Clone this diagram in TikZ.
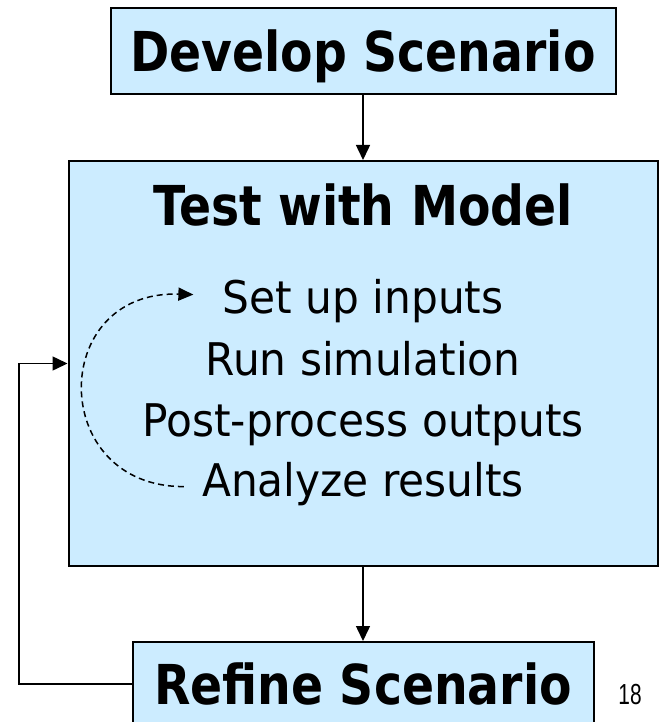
\documentclass[tikz,border=0pt]{standalone}
\usepackage{fontspec}
\usetikzlibrary{arrows.meta}
\newfontfamily\ttlfont[FakeStretch=0.86]{DejaVu Sans Bold}
\newfontfamily\bodyfont[FakeStretch=0.94]{DejaVu Sans}
\newfontfamily\numfont[FakeStretch=0.72]{Liberation Sans}
\definecolor{boxblue}{HTML}{CCECFF}
\begin{document}
\begin{tikzpicture}[x=1pt,y=-1pt,
  box/.style={draw=black, line width=2pt, fill=boxblue, inner sep=0pt},
  ttl/.style={font=\ttlfont\fontsize{55}{55}\selectfont, inner sep=0pt, text depth=0pt},
  item/.style={font=\bodyfont\fontsize{45}{45}\selectfont, inner sep=0pt, anchor=base},
  conn/.style={line width=1.5pt, -{Triangle[length=15pt,width=14pt]}},
  loopconn/.style={line width=1.5pt, dash pattern=on 6pt off 4pt, -{Triangle[length=15pt,width=13pt]}}
]
\useasboundingbox (0,0) rectangle (659,722);
\node[box, ttl, minimum width=505pt, minimum height=86pt] (dev) at (363,51) {Develop Scenario};
\node[box, minimum width=589pt, minimum height=405pt] (test) at (363,363.5) {};
\node[ttl, anchor=base] (ttitle) at (363,225) {Test with Model};
\node[item] (i1) at (363,313) {Set up inputs};
\node[item] (i2) at (363,375) {Run simulation};
\node[item] (i3) at (363,436) {Post-process outputs};
\node[item] (i4) at (363,496) {Analyze results};
\node[box, ttl, minimum width=461pt, minimum height=84pt] (ref) at (363,684) {Refine Scenario};
\node[font=\numfont\fontsize{29}{29}\selectfont, inner sep=0pt] (pg) at (630,695) {18};
\draw[conn] (dev.south) -- (test.north);
\draw[conn] (test.south) -- (ref.north);
\draw[conn] (ref.west) -- ++(-112.5,0) |- (test.west);
\draw[loopconn] ([xshift=-18pt,yshift=-3pt]i4.west) .. controls (48,487) and (48,290) .. ([xshift=-29pt,yshift=6pt]i1.west);
\end{tikzpicture}
\end{document}
